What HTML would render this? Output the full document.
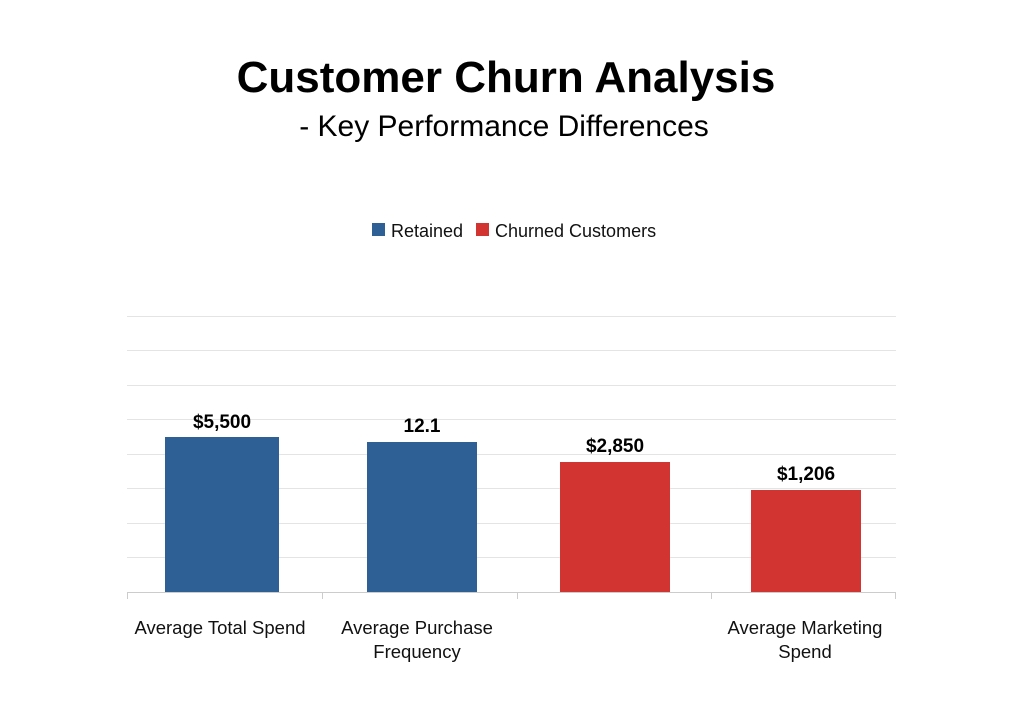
<!DOCTYPE html>
<html><head><style>
body{margin:0;background:#fff;font-family:"Liberation Sans",sans-serif;}
.c{position:relative;width:1024px;height:717px;overflow:hidden;}
</style></head><body><div class="c">
<svg width="1024" height="717" xmlns="http://www.w3.org/2000/svg" font-family="Liberation Sans, sans-serif">
<text x="506" y="92" text-anchor="middle" font-size="44" font-weight="bold" fill="#000">Customer Churn Analysis</text>
<text x="504" y="136" text-anchor="middle" font-size="30" fill="#000">- Key Performance Differences</text>
<rect x="372" y="223" width="13" height="13" fill="#2e6096"/>
<text x="391" y="237" font-size="18" fill="#111">Retained</text>
<rect x="476" y="223" width="13" height="13" fill="#d23432"/>
<text x="495" y="237" font-size="18" fill="#111">Churned Customers</text>
<g stroke="#e4e4e4" stroke-width="1">
<line x1="127" x2="896" y1="316.5" y2="316.5"/>
<line x1="127" x2="896" y1="350.5" y2="350.5"/>
<line x1="127" x2="896" y1="385.5" y2="385.5"/>
<line x1="127" x2="896" y1="419.5" y2="419.5"/>
<line x1="127" x2="896" y1="454.5" y2="454.5"/>
<line x1="127" x2="896" y1="488.5" y2="488.5"/>
<line x1="127" x2="896" y1="523.5" y2="523.5"/>
<line x1="127" x2="896" y1="557.5" y2="557.5"/>
</g>
<rect x="165" y="437" width="114" height="155" fill="#2e6096"/>
<rect x="367" y="442" width="110" height="150" fill="#2e6096"/>
<rect x="560" y="462" width="110" height="130" fill="#d23432"/>
<rect x="751" y="490" width="110" height="102" fill="#d23432"/>
<g stroke="#ccc" stroke-width="1">
<line x1="127" x2="896" y1="592.5" y2="592.5"/>
<line x1="127.5" x2="127.5" y1="592" y2="599"/>
<line x1="322.5" x2="322.5" y1="592" y2="599"/>
<line x1="517.5" x2="517.5" y1="592" y2="599"/>
<line x1="711.5" x2="711.5" y1="592" y2="599"/>
<line x1="895.5" x2="895.5" y1="592" y2="599"/>
</g>
<g font-size="19" font-weight="bold" text-anchor="middle" fill="#000">
<text x="222" y="428">$5,500</text>
<text x="422" y="432">12.1</text>
<text x="615" y="452">$2,850</text>
<text x="806" y="480">$1,206</text>
</g>
<g font-size="18.5" text-anchor="middle" fill="#111">
<text x="220" y="634">Average Total Spend</text>
<text x="417" y="634">Average Purchase</text>
<text x="417" y="658">Frequency</text>
<text x="805" y="634">Average Marketing</text>
<text x="805" y="658">Spend</text>
</g>
</svg></div></body></html>
